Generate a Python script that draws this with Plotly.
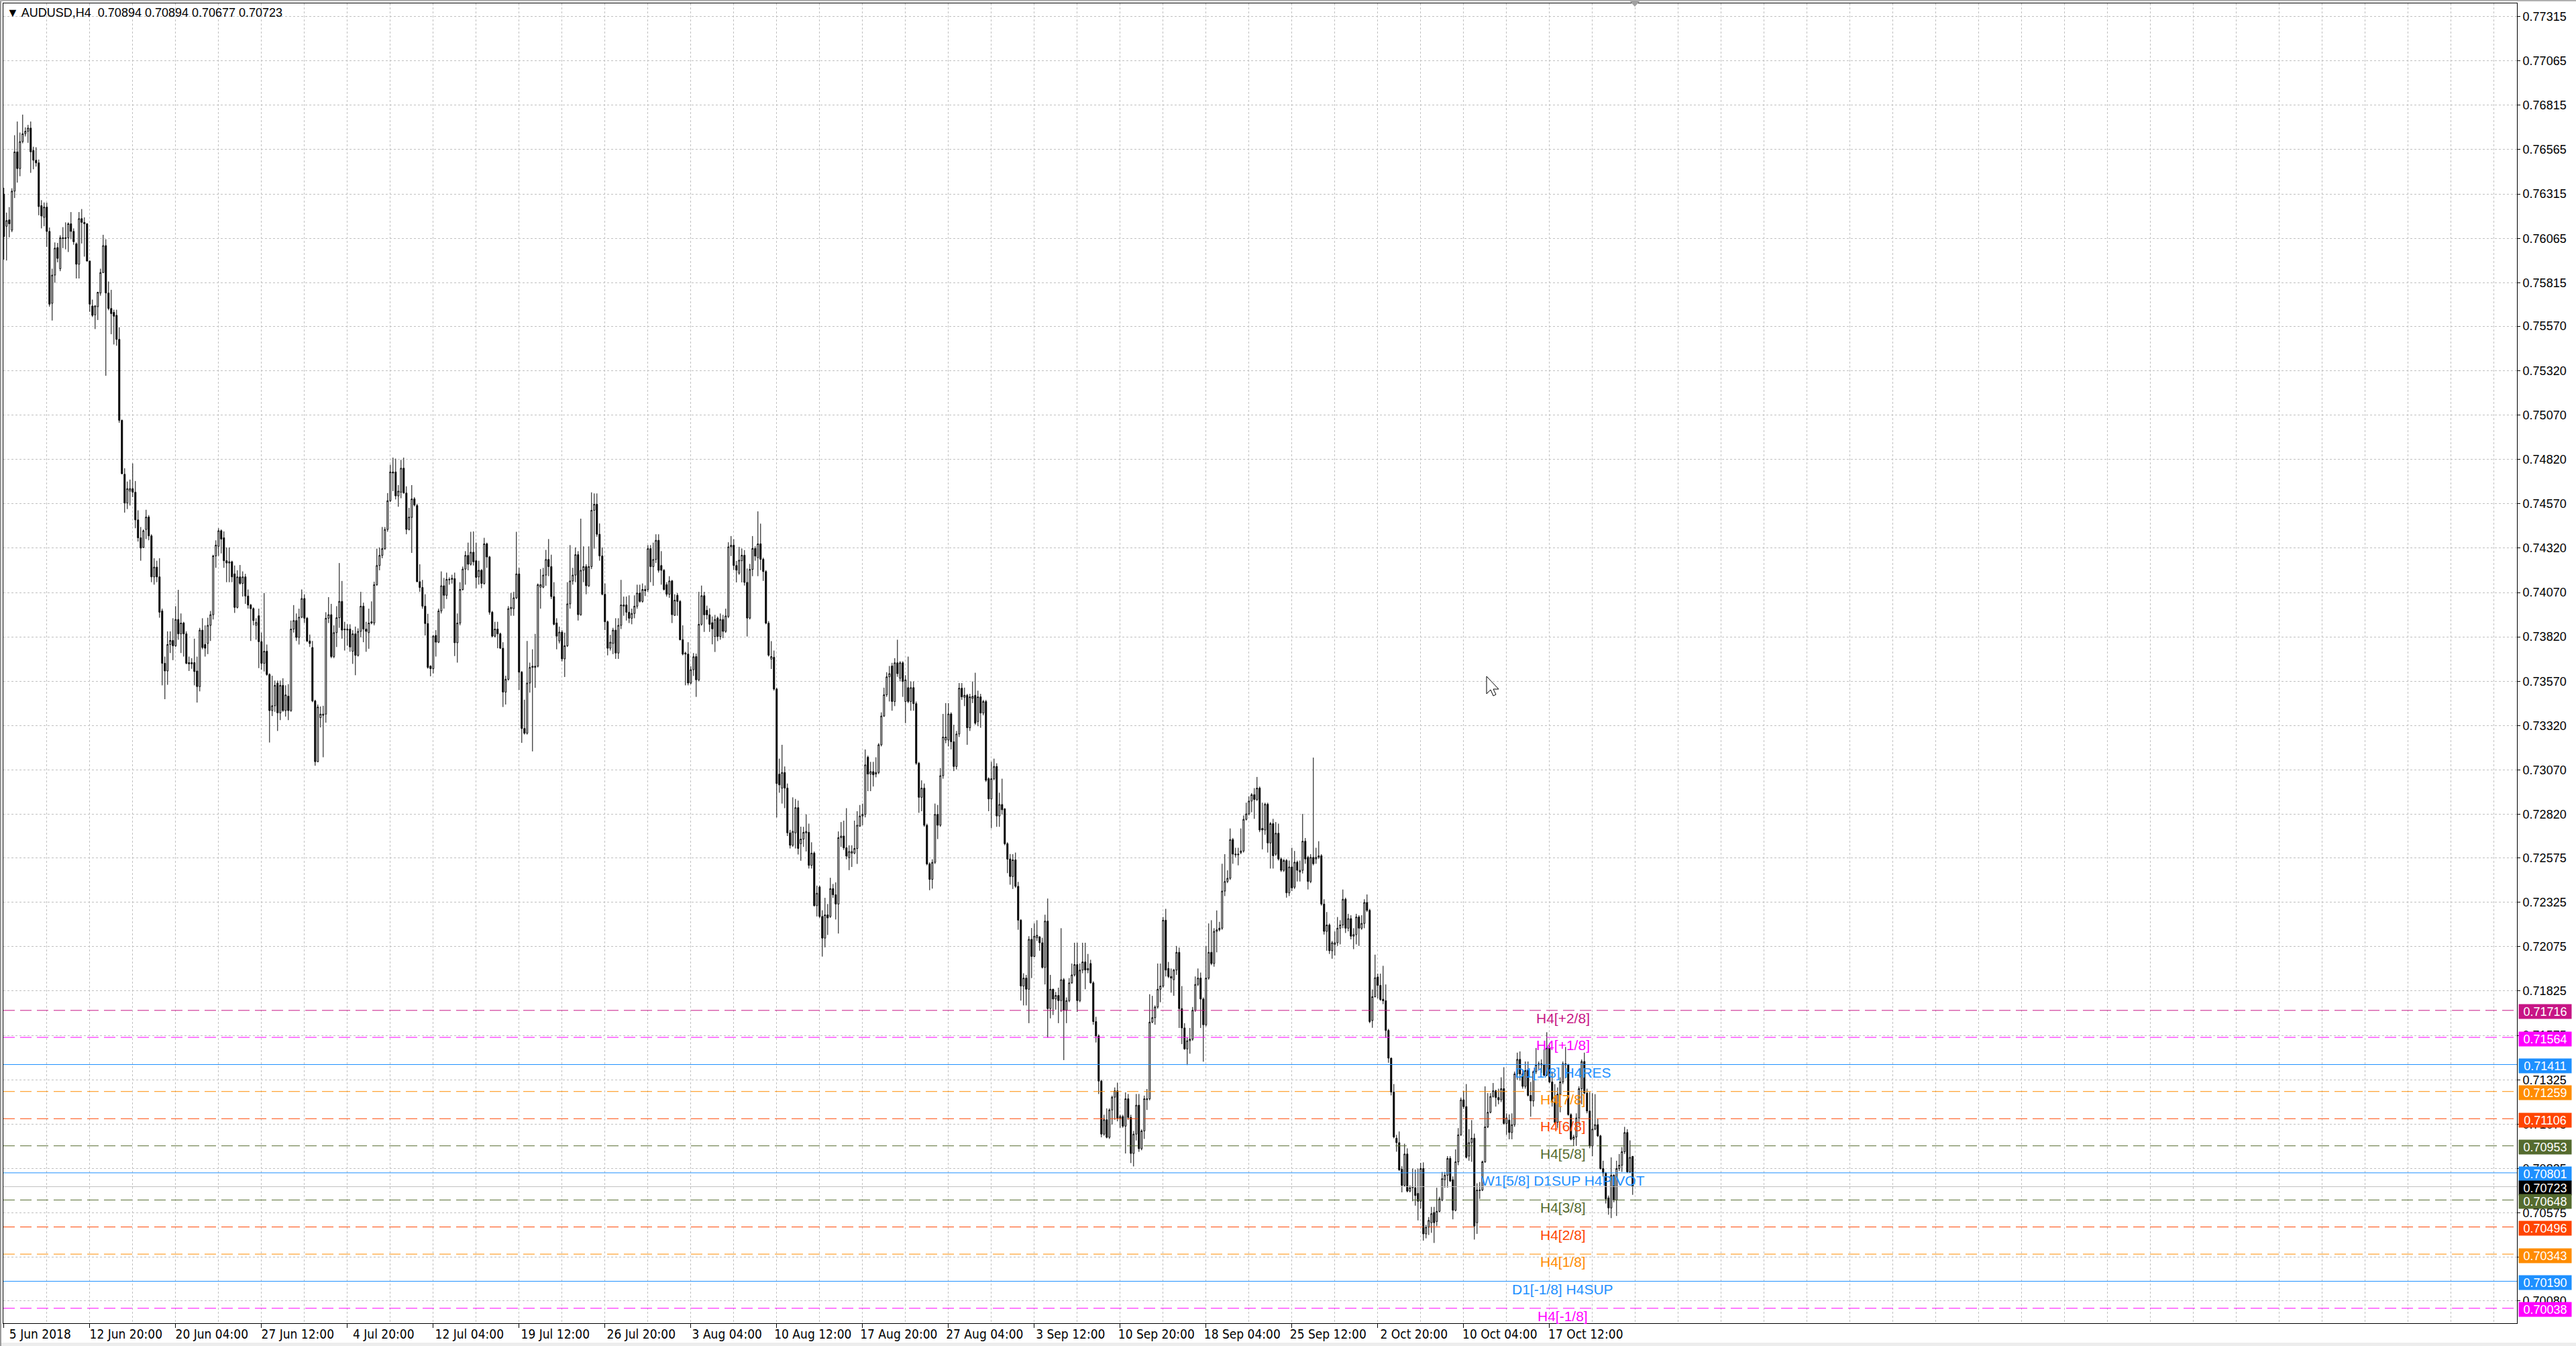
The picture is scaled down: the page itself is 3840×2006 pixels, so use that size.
import plotly.graph_objects as go

# ---------------- data (prices in points, 1 point = 0.00001) ----------------
POINT = 1e-5

open_pts = [
    76314, 76133, 76169, 76111, 76331, 76552, 76458, 76610, 76654, 76668,
    76686, 76560, 76505, 76490, 76249, 76183, 76241, 76104, 75699, 75858,
    76013, 75894, 76068, 76064, 76068, 76147, 76104, 76034, 75919, 76176,
    76155, 76147, 75937, 75684, 75634, 75680, 75757, 75872, 76024, 75757,
    75670, 75648, 75631, 75496, 75040, 74736, 74574, 74641, 74655, 74635,
    74479, 74378, 74324, 74425, 74495, 74389, 74158, 74213, 74158, 73966,
    73671, 73628, 73777, 73800, 73770, 73918, 73837, 73898, 73837, 73675,
    73668,
    73675, 73628, 73540, 73858, 73777, 73783, 73885, 73945, 74276, 74330,
    74418, 74378, 74249, 74236, 74243, 74175, 73986, 74158, 74121, 74158,
    74050, 73999, 73979, 73885, 73939, 73793, 73671, 73739, 73608, 73405,
    73432, 73560, 73392, 73547, 73405, 73486, 73405, 73864, 73912, 73817,
    73931, 74036, 73925, 73797, 73760, 73459, 73117, 73365, 73378, 73385,
    73925, 73945, 73709, 73844, 73928, 74020, 73864, 73858, 73864, 73739,
    73837, 73716, 73851, 73993, 73864, 73844, 73898, 73898, 74114, 74222,
    74279, 74317, 74425, 74587, 74749, 74749, 74614, 74635, 74770, 74630,
    74425, 74493, 74597, 74560, 74131, 74098, 73993, 73895, 73655, 73641,
    73828, 73790, 73966, 74108, 74054, 74141,
    74144,
    74148, 73787, 73898, 74087,
    74202, 74279, 74229, 74297, 74249, 74158, 74195, 74121, 74344, 74270,
    73959, 73824, 73864, 73837, 73756, 73509, 73581, 73979, 73979, 74040,
    74175, 73621, 73304, 73277, 73560, 73648, 73648, 73655, 74100, 74100,
    74168, 74256, 74216, 74047, 73898, 73797, 73847, 73696, 73770, 74006,
    74135, 74168, 74283, 73945, 74195, 74216, 74108, 74216, 74533, 74567,
    74398, 74276, 74060, 73905, 73756, 73783, 73858, 73729, 73885, 73993,
    74000, 73959, 73925, 73952, 73993, 74067, 74020,
    74087,
    74087, 74317, 74216,
    74256, 74364, 74222, 74195, 74114, 74060, 74135, 73941, 74054, 74020,
    73804, 73729, 73723, 73560, 73635, 73709, 73578, 73891, 74052, 73970,
    73944, 73900, 73822, 73926, 73822, 73918, 73851, 73935, 74327, 74336,
    74222, 74179, 74249, 74280, 74127, 73926, 74200, 74318, 74266, 74344,
    74257, 74188, 73897, 73695, 73705, 73526, 73047, 72968, 73056, 72968,
    72716, 72646, 72716, 72858, 72655, 72681, 72716, 72719, 72533, 72602,
    72306, 72411, 72245, 72123, 72254, 72245, 72402, 72367, 72315, 72689,
    72698, 72632, 72576, 72602, 72602, 72628, 72754, 72811, 72820, 73142,
    73047, 73061, 73047, 73056, 73212, 73374, 73494, 73595, 73656, 73456,
    73674, 73587, 73674, 73456, 73534, 73456, 73534, 73444, 73108, 72916,
    72968, 72759, 72541, 72454, 72550, 72820, 72759, 73038, 73239, 73239,
    73386, 73229, 73090, 73273, 73531, 73479, 73491, 73308, 73473, 73491,
    73343, 73482, 73391, 73456, 73021, 72907, 73021, 73090, 72811, 72876,
    72851, 72655,
    72569, 72470, 72564, 72415, 72224, 71853, 71898, 71835, 72116, 72020,
    72125, 72130, 72097, 71958, 72219, 71726, 71835, 71780, 71800, 71771,
    71889, 71717, 71771, 71871, 71916, 71974, 71771, 71943, 71989, 71943,
    71980, 71871, 71653, 71572, 71318, 71019, 71100, 71001, 71155, 71227,
    71263, 71109, 71118, 71064, 71218, 71113, 70910, 71019, 71182, 70937,
    71037, 71213, 71218, 71650, 71675, 71735, 71835, 71853, 72224, 71952,
    71907, 71889, 71943, 72043, 71726, 71617, 71499, 71545, 71554, 71717,
    71862, 71898, 71780, 71635, 71898, 72043, 71980, 72161, 72170, 72179,
    72388, 72442, 72460, 72678, 72592, 72592, 72605, 72614, 72792, 72823,
    72895, 72931, 72904, 72968, 72741, 72732, 72877, 72659, 72768, 72596,
    72714, 72569, 72505, 72560, 72378, 72524, 72410, 72551, 72496, 72505,
    72669, 72578, 72442, 72578, 72569, 72578, 72587, 72315, 72161, 72197,
    72052, 72088, 72097, 72179, 72197, 72342, 72179, 72233, 72134, 72143,
    72242, 72179, 72206, 72324, 72279,
    71659, 71793, 71904, 71857, 71779, 71770, 71603, 71447, 71256, 70996,
    70971, 70821, 70730, 70907, 70698, 70717, 70717, 70685, 70641, 70825,
    70457, 70495, 70520, 70578, 70527, 70584, 70647, 70762, 70787, 70882,
    70762, 70590, 70863, 71015, 71212, 71174, 70895, 70971, 70996, 70520,
    70701, 70704, 70863, 71060, 71142, 71231, 71263, 71225, 71212, 71275,
    71079, 71098, 71028, 71072, 71358, 71440, 71358, 71288, 71377, 71237,
    71206, 71371, 71409, 71415, 71409, 71351, 71504, 71313, 71199, 71085,
    71244, 71313, 71415, 71409, 71129, 70990, 71003, 71110, 71275, 71428,
    71250, 71149, 70952, 71047, 71072, 71009, 70825, 70800, 70660, 70603,
    70787, 70647, 70825, 70844, 70920, 71028, 70806, 70894,
]

high_pts = [
    76350, 76210, 76241, 76347, 76646, 76723, 76661, 76762, 76690, 76704,
    76723, 76581, 76578, 76509, 76280, 76267, 76266, 76126, 75894, 76042,
    76039, 76082, 76128, 76155, 76155, 76213, 76121, 76042, 76213, 76230,
    76183, 76150, 75940, 75720, 75689, 75764, 75894, 76085, 76060, 75822,
    75775, 75663, 75663, 75564, 75044, 74770, 74695, 74706, 74797, 74698,
    74533, 74439, 74425, 74536, 74506, 74398, 74263, 74249, 74263, 73979,
    73709, 73851, 73851, 73925, 73993, 74085, 73952, 73905, 73851, 73709,
    73700,
    73810, 73709, 73871, 73925, 73885, 73928, 73966, 74283, 74364, 74432,
    74425, 74414, 74324, 74324, 74249, 74222, 74195, 74225, 74189, 74175,
    74087, 74006, 73986, 73925, 73979, 73844, 74067, 73777, 73615, 73601,
    73574, 73574, 73574, 73587, 73547, 73554, 73912, 73999, 73952, 73979,
    74087, 74060, 73932, 73833, 73797, 73466, 73439, 73428, 73432, 73959,
    74044, 74006, 73885, 73993, 74236, 74135, 73905, 73891, 73891, 73858,
    73878, 73868, 74074, 74013, 73905, 73979, 74020, 74131, 74317, 74324,
    74439, 74439, 74630, 74790, 74830, 74824, 74675, 74817, 74830, 74668,
    74547, 74675, 74607, 74570, 74229, 74141, 74060, 73950, 73660, 73831,
    73858, 73979, 74189, 74152, 74182, 74155,
    74170,
    74182, 73952, 74128, 74216,
    74303, 74351, 74412, 74414, 74351, 74249, 74202, 74378, 74351, 74276,
    73966, 73905, 73905, 73844, 73790, 73601, 73993, 74067, 74074, 74412,
    74209, 73628, 73466, 73797, 73675, 73750, 73837, 74121, 74202, 74209,
    74310, 74371, 74283, 74128, 73925, 73878, 73858, 73844, 74128, 74337,
    74209, 74324, 74303, 74486, 74330, 74229, 74330, 74634, 74628, 74628,
    74459, 74324, 74121, 73912, 73831, 73871, 73925, 73925, 74141, 74047,
    74047, 74054, 73979, 74054, 74114, 74114, 74121,
    74110,
    74337, 74337, 74351,
    74398, 74398, 74303, 74202, 74128, 74162, 74141, 74060, 74067, 74027,
    73885, 73736, 73790, 73655, 73729, 73726, 74074, 74109, 74074, 73996,
    73981, 73935, 73944, 73935, 73952, 73944, 73979, 74353, 74388, 74370,
    74248, 74327, 74318, 74309, 74205, 74231, 74388, 74330, 74527, 74458,
    74266, 74196, 73909, 73796, 73743, 73534, 73134, 73212, 73090, 72994,
    72733, 72916, 72907, 72898, 72751, 72750, 72820, 72768, 72663, 72611,
    72419, 72419, 72280, 72350, 72315, 72463, 72428, 72437, 72724, 72777,
    72785, 72855, 72646, 72646, 72785, 72838, 72873, 72881, 73186, 73151,
    73116, 73116, 73142, 73221, 73395, 73534, 73621, 73656, 73674, 73700,
    73804, 73683, 73683, 73604, 73709, 73569, 73569, 73456, 73116, 73012,
    72994, 72768, 72550, 72567, 72881, 72873, 73081, 73386, 73447, 73447,
    73395, 73325, 73290, 73560, 73560, 73534, 73499, 73499, 73569, 73618,
    73517, 73499, 73465, 73465, 73029, 73116, 73134, 73108, 72942, 73021,
    72855, 72663,
    72597, 72596, 72605, 72440, 72230, 71925, 71916, 72134, 72180, 72206,
    72224, 72134, 72125, 72255, 72346, 71916, 71838, 71820, 71844, 72179,
    71898, 71789, 71898, 71980, 72097, 72097, 71980, 72097, 72097, 72034,
    72001, 71880, 71680, 71581, 71325, 71128, 71164, 71164, 71236, 71282,
    71309, 71128, 71128, 71254, 71245, 71128, 71037, 71245, 71245, 71046,
    71236, 71273, 71807, 71798, 71744, 71980, 71980, 72242, 72288, 71989,
    71952, 71950, 72079, 72070, 71853, 71644, 71563, 71617, 71735, 71907,
    71952, 71929, 71789, 72079, 72206, 72224, 72179, 72279, 72215, 72542,
    72596, 72505, 72741, 72687, 72632, 72632, 72741, 72814, 72886, 72922,
    72940, 72968, 73031, 72977, 72886, 72886, 72886, 72777, 72795, 72777,
    72768, 72578, 72569, 72569, 72560, 72632, 72614, 72560, 72560, 72823,
    72687, 72587, 72596, 73140, 72632, 72669, 72596, 72342, 72270, 72206,
    72107, 72161, 72242, 72224, 72397, 72351, 72260, 72252, 72179, 72260,
    72252, 72252, 72342, 72369, 72288,
    71834, 72030, 71923, 71923, 71967, 71862, 71612, 71450, 71301, 71015,
    71034, 70838, 70965, 70939, 70730, 70825, 70819, 70825, 70857, 70860,
    70508, 70552, 70609, 70609, 70717, 70666, 70806, 70806, 70895, 70895,
    70781, 70933, 71053, 71225, 71263, 71301, 71047, 71098, 71022, 70742,
    70749, 70870, 71288, 71250, 71250, 71307, 71269, 71275, 71339, 71396,
    71136, 71130, 71136, 71371, 71478, 71485, 71377, 71428, 71428, 71313,
    71377, 71504, 71428, 71440, 71497, 71593, 71529, 71371, 71301, 71282,
    71339, 71428, 71510, 71415, 71136, 71015, 71136, 71288, 71440, 71478,
    71275, 71256, 71250, 71244, 71104, 71015, 70869, 70806, 70673, 70888,
    70793, 70869, 70907, 70946, 71060, 71047, 70984, 70894,
]

low_pts = [
    75945, 75940, 76071, 76100, 76292, 76379, 76415, 76600, 76639, 76603,
    76434, 76454, 76469, 76195, 76121, 76133, 76017, 75680, 75602, 75815,
    75930, 75880, 76010, 76003, 75988, 76060, 76029, 75839, 75839, 76036,
    75962, 75935, 75651, 75622, 75554, 75605, 75742, 75869, 75291, 75660,
    75525, 75467, 75460, 75026, 74736, 74520, 74540, 74560, 74607, 74432,
    74357, 74249, 74320, 74371, 74364, 74128, 74114, 74128, 73928, 73547,
    73469, 73550, 73729, 73689, 73763, 73804, 73729, 73709, 73666, 73628,
    73640,
    73547, 73450, 73513, 73750, 73709, 73723, 73797, 73918, 74209, 74276,
    74290, 74209, 74128, 74128, 74128, 73955, 73980, 74114, 74047, 74006,
    73979, 73797, 73885, 73804, 73644, 73635, 73625, 73601, 73225, 73374,
    73398, 73290, 73351, 73398, 73371, 73351, 73398, 73844, 73797, 73777,
    73925, 73898, 73790, 73763, 73452, 73094, 73114, 73310, 73142, 73337,
    73898, 73700, 73700, 73763, 73871, 73810, 73743, 73770, 73736, 73668,
    73604, 73709, 73817, 73790, 73736, 73753, 73891, 73885, 74108, 74195,
    74263, 74310, 74412, 74580, 74641, 74594, 74553, 74601, 74628, 74398,
    74420, 74293, 74555, 74128, 74074, 73979, 73828, 73641, 73598, 73614,
    73709, 73785, 73952, 73979, 74033, 74114,
    74120,
    73712, 73675, 73885, 74081,
    74114, 74195, 74222, 74222, 74094, 74114, 74094, 74114, 74209, 73945,
    73817, 73817, 73756, 73752, 73425, 73439, 73574, 73939, 73939, 74033,
    73520, 73223, 73270, 73270, 73506, 73175, 73533, 73648, 73979, 74094,
    74108, 74162, 74033, 73885, 73750, 73783, 73682, 73594, 73763, 73979,
    74114, 74128, 73912, 73939, 74128, 74060, 74101, 74202, 74317, 74384,
    74249, 74054, 73858, 73716, 73743, 73723, 73696, 73696, 73864, 73939,
    73912, 73898, 73891, 73925, 73979, 74013, 74013,
    74050,
    74074, 74128, 74108,
    74236, 74182, 74114, 74081, 74047, 74040, 73898, 73939, 73939, 73800,
    73716, 73547, 73547, 73553, 73600, 73482, 73569, 73883, 73848, 73918,
    73848, 73778, 73735, 73796, 73804, 73813, 73843, 73926, 74275, 74196,
    74127, 74170, 74127, 74109, 73822, 73918, 74162, 74249, 74162, 74196,
    74135, 73891, 73709, 73639, 73517, 72803, 72942, 72881, 72855, 72698,
    72628, 72637, 72628, 72594, 72559, 72637, 72611, 72515, 72515, 72301,
    72245, 72237, 72019, 72071, 72141, 72237, 72350, 72228, 72149, 72637,
    72620, 72567, 72506, 72524, 72595, 72541, 72750, 72759, 72803, 72951,
    72951, 72977, 73029, 73047, 73203, 73369, 73482, 73456, 73404, 73430,
    73595, 73569, 73482, 73334, 73447, 73404, 73404, 73099, 72829, 72838,
    72750, 72533, 72393, 72402, 72541, 72681, 72750, 73021, 73221, 73203,
    73186, 73064, 73073, 73256, 73465, 73430, 73212, 73290, 73447, 73325,
    73317, 73308, 73378, 73003, 72838, 72742, 73012, 72750, 72750, 72820,
    72646, 72489,
    72424, 72400, 72406, 72170, 71771, 71744, 71744, 71644, 71898, 72016,
    72107, 72052, 71952, 71862, 71563, 71671, 71690, 71720, 71644, 71708,
    71436, 71644, 71762, 71866, 71907, 71708, 71762, 71925, 71835, 71925,
    71867, 71635, 71535, 71245, 71001, 71010, 70995, 70992, 71073, 71100,
    71091, 71055, 71055, 70910, 71100, 70856, 70837, 70983, 70919, 70928,
    70992, 71155, 71209, 71644, 71635, 71726, 71762, 71844, 71907, 71898,
    71816, 71798, 71916, 71617, 71526, 71494, 71408, 71472, 71545, 71708,
    71853, 71617, 71427, 71626, 71889, 71971, 71962, 72043, 72161, 72170,
    72360, 72433, 72451, 72542, 72578, 72533, 72596, 72605, 72786, 72814,
    72832, 72795, 72895, 72720, 72623, 72705, 72605, 72515, 72515, 72587,
    72560, 72496, 72496, 72351, 72360, 72388, 72400, 72442, 72442, 72487,
    72542, 72397, 72433, 72533, 72542, 72569, 72306, 72143, 72052, 72034,
    72007, 72025, 72079, 72088, 72179, 72152, 72161, 72116, 72061, 72088,
    72079, 72170, 72179, 72270, 71644,
    71618, 71789, 71783, 71770, 71751, 71561, 71421, 71237, 70995, 70920,
    70812, 70691, 70723, 70691, 70691, 70641, 70616, 70533, 70600, 70419,
    70432, 70451, 70463, 70406, 70501, 70578, 70641, 70717, 70717, 70749,
    70539, 70584, 70844, 71009, 71161, 70882, 70869, 70863, 70425, 70457,
    70654, 70698, 70857, 71053, 71136, 71225, 71174, 71187, 71199, 71072,
    71015, 70990, 70990, 71060, 71326, 71320, 71275, 71275, 71231, 71117,
    71174, 71358, 71383, 71364, 71345, 71345, 71307, 71174, 71072, 71053,
    71142, 71301, 71333, 71123, 70984, 70952, 70952, 71072, 71187, 71244,
    71136, 70939, 70895, 71041, 71003, 70819, 70780, 70628, 70565, 70546,
    70635, 70558, 70812, 70806, 70907, 70800, 70800, 70677,
]

close_pts = [
    76075, 76165, 76147, 76331, 76552, 76458, 76610, 76654, 76668, 76686,
    76552, 76505, 76490, 76244, 76191, 76241, 76104, 75694, 75858, 76010,
    75952, 76068, 76064, 76068, 76147, 76104, 76046, 75919, 76176, 76155,
    76147, 75937, 75694, 75631, 75684, 75761, 75872, 76024, 75757, 75670,
    75641, 75626, 75496, 75040, 74739, 74574, 74655, 74655, 74635, 74479,
    74378, 74320, 74418, 74495, 74389, 74158, 74213, 74158, 73959, 73671,
    73628, 73777, 73800, 73770, 73918, 73837, 73898, 73837, 73671, 73668,
    73675,
    73625, 73540, 73858, 73760, 73756, 73885, 73945, 74276, 74337, 74418,
    74371, 74249, 74236, 74243, 74158, 73986, 74158, 74121, 74158, 74050,
    73999, 73979, 73912, 73901, 73793, 73671, 73739, 73608, 73405, 73432,
    73547, 73392, 73547, 73405, 73493, 73405, 73864, 73912, 73817, 73931,
    74036, 73925, 73797, 73783, 73459, 73117, 73425, 73385, 73385, 73925,
    73945, 73709, 73844, 73928, 74020, 73858, 73860, 73864, 73763, 73837,
    73716, 73851, 73993, 73864, 73851, 73898, 73905, 74114, 74222, 74279,
    74317, 74425, 74587, 74749, 74743, 74614, 74641, 74770, 74630, 74425,
    74495, 74597, 74563, 74131, 74098, 73993, 73895, 73648, 73641, 73824,
    73790, 73966, 74108, 74054, 74144, 74144,
    74150,
    73787, 73898, 74087, 74202,
    74279, 74229, 74297, 74243, 74155, 74195, 74121, 74344, 74270, 73959,
    73824, 73864, 73837, 73756, 73509, 73581, 73979, 73986, 74040, 74175,
    73621, 73304, 73277, 73560, 73648, 73655, 73655, 74114, 74114, 74168,
    74256, 74216, 74047, 73891, 73824, 73847, 73696, 73770, 74006, 74135,
    74168, 74283, 73945, 74195, 74216, 74108, 74216, 74533, 74567, 74398,
    74276, 74060, 73905, 73756, 73790, 73858, 73729, 73885, 74000, 74000,
    73959, 73925, 73952, 73993, 74067, 74020, 74087,
    74080,
    74317, 74216, 74256,
    74364, 74195, 74195, 74087, 74060, 74135, 73945, 74027, 74020, 73804,
    73723, 73723, 73560, 73635, 73708, 73578, 73891, 74052, 73944, 73944,
    73891, 73865, 73918, 73822, 73918, 73851, 73938, 74327, 74336, 74222,
    74196, 74252, 74280, 74127, 73926, 74200, 74318, 74275, 74344, 74257,
    74188, 73897, 73717, 73709, 73526, 72994, 72986, 73056, 72968, 72716,
    72646, 72724, 72858, 72628, 72681, 72719, 72724, 72533, 72602, 72306,
    72376, 72245, 72123, 72254, 72237, 72402, 72367, 72315, 72689, 72698,
    72632, 72585, 72611, 72611, 72628, 72759, 72811, 72820, 73099, 73047,
    73061, 73043, 73056, 73212, 73374, 73494, 73595, 73613, 73456, 73674,
    73613, 73674, 73569, 73578, 73456, 73534, 73444, 73108, 72916, 72968,
    72759, 72541, 72454, 72550, 72820, 72759, 73038, 73256, 73256, 73386,
    73229, 73090, 73273, 73531, 73482, 73491, 73308, 73482, 73485, 73334,
    73482, 73391, 73456, 73012, 72907, 73021, 73090, 72811, 72876, 72846,
    72655, 72568,
    72470, 72564, 72415, 72224, 71853, 71898, 71835, 72116, 72020, 72134,
    72139, 72097, 71958, 72219, 71726, 71835, 71780, 71800, 71771, 71889,
    71717, 71771, 71871, 71916, 71974, 71771, 71943, 71989, 71943, 71952,
    71871, 71653, 71572, 71318, 71019, 71100, 71001, 71155, 71227, 71263,
    71109, 71118, 71064, 71218, 71113, 70910, 71019, 71182, 70937, 71037,
    71218, 71218, 71650, 71675, 71735, 71835, 71853, 72224, 71943, 71907,
    71898, 71943, 72043, 71726, 71617, 71499, 71545, 71554, 71717, 71862,
    71898, 71780, 71635, 71898, 72043, 71980, 72161, 72170, 72179, 72388,
    72442, 72460, 72678, 72596, 72596, 72596, 72614, 72792, 72823, 72895,
    72931, 72904, 72968, 72732, 72732, 72877, 72659, 72768, 72587, 72714,
    72569, 72505, 72560, 72378, 72524, 72406, 72551, 72505, 72505, 72669,
    72569, 72442, 72578, 72542, 72578, 72587, 72315, 72161, 72197, 72052,
    72097, 72097, 72179, 72197, 72342, 72179, 72233, 72134, 72143, 72242,
    72179, 72206, 72324, 72279, 71653,
    71793, 71900, 71857, 71777, 71770, 71603, 71447, 71256, 71003, 70971,
    70818, 70730, 70907, 70698, 70717, 70723, 70673, 70641, 70825, 70457,
    70495, 70533, 70571, 70520, 70584, 70654, 70768, 70787, 70882, 70755,
    70590, 70863, 71015, 71212, 71174, 70888, 70971, 70996, 70501, 70704,
    70704, 70863, 71060, 71142, 71231, 71263, 71225, 71212, 71275, 71079,
    71110, 71028, 71072, 71358, 71440, 71358, 71288, 71377, 71237, 71206,
    71371, 71409, 71415, 71409, 71351, 71504, 71313, 71199, 71085, 71244,
    71313, 71415, 71409, 71129, 70990, 71003, 71110, 71275, 71428, 71250,
    71149, 70952, 71047, 71072, 71009, 70825, 70800, 70654, 70603, 70787,
    70647, 70825, 70844, 70920, 71028, 70806, 70888, 70723,
]

# x-axis (bar index) labels as printed on the time scale
xtick_bars = [0, 32, 64, 96, 128, 160, 192, 224, 256, 288, 320, 352, 384,
              416, 448, 480, 512, 544, 576]
xtick_labels = ["5 Jun 2018", "12 Jun 20:00", "20 Jun 04:00", "27 Jun 12:00",
                "4 Jul 20:00", "12 Jul 04:00", "19 Jul 12:00", "26 Jul 20:00",
                "3 Aug 04:00", "10 Aug 12:00", "17 Aug 20:00", "27 Aug 04:00",
                "3 Sep 12:00", "10 Sep 20:00", "18 Sep 04:00", "25 Sep 12:00",
                "2 Oct 20:00", "10 Oct 04:00", "17 Oct 12:00"]

# price scale labels
ytick_labels = ["0.77315", "0.77065", "0.76815", "0.76565", "0.76315", "0.76065",
                "0.75815", "0.75570", "0.75320", "0.75070", "0.74820", "0.74570",
                "0.74320", "0.74070", "0.73820", "0.73570", "0.73320", "0.73070",
                "0.72820", "0.72575", "0.72325", "0.72075", "0.71825", "0.71575",
                "0.71325", "0.71075", "0.70825", "0.70575", "0.70325", "0.70080"]
ytick_vals = [float(s) for s in ytick_labels]

# Murrey math levels
level_prices = [0.71716, 0.71564, 0.71411, 0.71259, 0.71106, 0.70953,
                0.70801, 0.70648, 0.70496, 0.70343, 0.70190, 0.70038]
level_names = ["H4[+2/8]", "H4[+1/8]", "D1[1/8] H4RES", "H4[7/8]", "H4[6/8]",
               "H4[5/8]", "W1[5/8] D1SUP H4PIVOT", "H4[3/8]", "H4[2/8]",
               "H4[1/8]", "D1[-1/8] H4SUP", "H4[-1/8]"]
level_colors = ["#C71585", "#FF00FF", "#1E90FF", "#FF8C00", "#FF4500", "#556B2F",
                "#1E90FF", "#556B2F", "#FF4500", "#FF8C00", "#1E90FF", "#FF00FF"]
level_solid = [False, False, True, False, False, False,
               True, False, False, False, True, False]
label_bar = 581

symbol_title = "AUDUSD,H4"
last_ohlc = [0.70894, 0.70894, 0.70677, 0.70723]
current_price = 0.70723

# ---------------- geometry ----------------
W, H = 3840, 2006
ML, MR, MT, MB = 5, 88, 5, 34
PW, PH = W - ML - MR, H - MT - MB
Y_RANGE = [0.699540, 0.773887]
X_RANGE = [-0.2, 936.55]

def px_to_paper(fx, fy):
    return (fx - ML) / PW, (H - MB - fy) / PH

opens = [v * POINT for v in open_pts]
highs = [v * POINT for v in high_pts]
lows = [v * POINT for v in low_pts]
closes = [v * POINT for v in close_pts]
assert len(opens) == len(highs) == len(lows) == len(closes)
bars = list(range(len(opens)))

GRID = "#C0C0C0"
NARROW = "Liberation Sans Narrow, Arial Narrow, DejaVu Sans Condensed, Liberation Sans, Arial"
SANS = "Liberation Sans, Arial, DejaVu Sans"

fig = go.Figure()
fig.add_trace(go.Candlestick(
    x=bars, open=opens, high=highs, low=lows, close=closes,
    increasing=dict(line=dict(color="#000000", width=1), fillcolor="#FFFFFF"),
    decreasing=dict(line=dict(color="#000000", width=1), fillcolor="#000000"),
    whiskerwidth=0, hoverinfo="skip", showlegend=False,
))

shapes = []
annotations = []

# level lines, in-chart labels and price tags
for p, name, col, solid in zip(level_prices, level_names, level_colors, level_solid):
    shapes.append(dict(type="line", xref="paper", x0=0, x1=1, yref="y", y0=p, y1=p,
                       line=dict(color=col, width=1, dash="solid" if solid else "17px,8px"),
                       layer="above"))
    annotations.append(dict(x=label_bar, y=p, xref="x", yref="y", text=name,
                            showarrow=False, xanchor="center", yanchor="top", yshift=2,
                            font=dict(family=SANS, size=21, color=col)))

shapes.append(dict(type="line", xref="paper", x0=0, x1=1, yref="y",
                   y0=current_price, y1=current_price,
                   line=dict(color="#C0C0C0", width=1), layer="above"))

tag_prices = level_prices[:7] + [current_price] + level_prices[7:]
tag_colors = level_colors[:7] + ["#000000"] + level_colors[7:]
for p, col in zip(tag_prices, tag_colors):
    annotations.append(dict(x=1, xref="paper", xanchor="left", xshift=2,
                            y=p, yref="y", yanchor="middle", yshift=-2,
                            text=f"{p:.5f}", showarrow=False,
                            bgcolor=col, width=78, height=21, borderpad=0,
                            align="center",
                            font=dict(family=SANS, size=18, color="#FFFFFF")))

# chart title (symbol + last bar OHLC)
title_txt = ("\u25BC " + symbol_title + "\u00a0\u00a0" +
             " ".join(f"{v:.5f}" for v in last_ohlc))
annotations.append(dict(x=0, y=1, xref="paper", yref="paper", xanchor="left",
                        yanchor="top", xshift=3, yshift=-2, text=title_txt,
                        showarrow=False, font=dict(family=SANS, size=18, color="#000000")))

# window frame details
x0p, y0p = px_to_paper(0, 0)
x1p, y1p = px_to_paper(W, H)
shapes.append(dict(type="rect", xref="paper", yref="paper",
                   x0=x0p, x1=x1p, y0=px_to_paper(0, 2001)[1], y1=y1p,
                   fillcolor="#EDEDED", line=dict(width=0), layer="above"))
shapes.append(dict(type="line", xref="paper", yref="paper",
                   x0=px_to_paper(1, 0)[0], x1=px_to_paper(1, 0)[0], y0=y0p, y1=y1p,
                   line=dict(color="#9A9A9A", width=2)))
shapes.append(dict(type="line", xref="paper", yref="paper",
                   x0=x0p, x1=x1p, y0=px_to_paper(0, 1)[1], y1=px_to_paper(0, 1)[1],
                   line=dict(color="#B0B0B0", width=2)))

# chart-shift marker
sx = 2437
a = px_to_paper(sx - 8, 1); b = px_to_paper(sx + 8, 1); c = px_to_paper(sx, 10)
shapes.append(dict(type="path", xref="paper", yref="paper",
                   path=f"M {a[0]},{a[1]} L {b[0]},{b[1]} L {c[0]},{c[1]} Z",
                   fillcolor="#A0A0A0", line=dict(width=0), layer="above"))

# mouse pointer
cx, cy = 2216, 1008
pts = [(0, 0), (0, 26), (6, 20), (10, 29), (14, 27), (10, 19), (18, 19)]
pp = [px_to_paper(cx + dx, cy + dy) for dx, dy in pts]
path = "M " + " L ".join(f"{q[0]},{q[1]}" for q in pp) + " Z"
shapes.append(dict(type="path", xref="paper", yref="paper", path=path,
                   fillcolor="#FFFFFF", line=dict(color="#000000", width=1), layer="above"))

minor_bars = [b_ for b_ in range(16, 937, 16) if b_ not in xtick_bars]

fig.update_layout(
    width=W, height=H,
    margin=dict(l=ML, r=MR, t=MT, b=MB, pad=0, autoexpand=False),
    paper_bgcolor="#FFFFFF", plot_bgcolor="#FFFFFF",
    showlegend=False, hovermode=False, dragmode=False,
    shapes=shapes, annotations=annotations,
    xaxis=dict(
        range=X_RANGE, type="linear", rangeslider=dict(visible=False),
        automargin=False,
        tickmode="array", tickvals=xtick_bars, ticktext=xtick_labels,
        ticks="outside", ticklen=6, tickwidth=1, tickcolor="#000000",
        ticklabelshift=54, ticklabelstandoff=-7,
        tickfont=dict(family=NARROW, size=19, color="#000000"),
        showline=True, linecolor="#000000", linewidth=1, mirror=True,
        showgrid=True, gridcolor=GRID, gridwidth=1, griddash="3px,3px",
        minor=dict(tickmode="array", tickvals=minor_bars, ticks="",
                   showgrid=True, gridcolor=GRID, gridwidth=1, griddash="3px,3px"),
        zeroline=False, fixedrange=True,
    ),
    yaxis=dict(
        range=Y_RANGE, side="right", automargin=False,
        tickmode="array", tickvals=ytick_vals, ticktext=ytick_labels,
        ticks="outside", ticklen=4, tickwidth=1, tickcolor="#000000",
        tickfont=dict(family=SANS, size=18, color="#000000"),
        showline=True, linecolor="#000000", linewidth=1, mirror=True,
        showgrid=True, gridcolor=GRID, gridwidth=1, griddash="3px,3px",
        zeroline=False, fixedrange=True,
    ),
)

# remove the default page margin so the figure sits at the window's top-left corner
fig.write_html("out.html", config={"displayModeBar": False},
               post_script="document.body.style.margin='0px';document.body.style.overflow='hidden';")
